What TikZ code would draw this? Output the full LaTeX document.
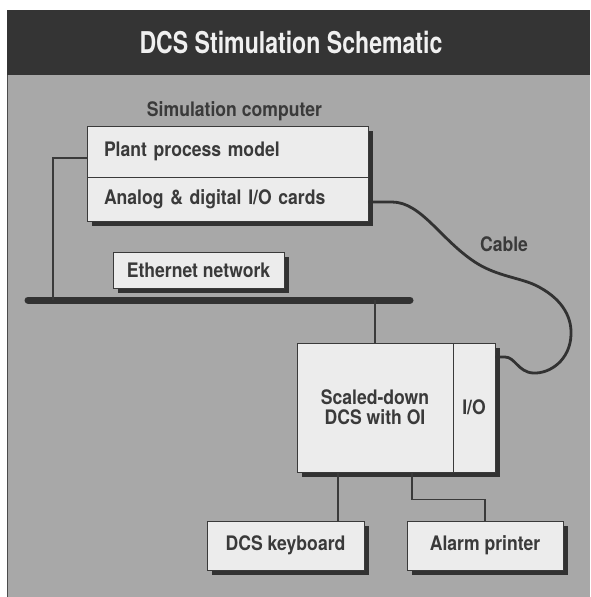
\documentclass[tikz,border=0pt]{standalone}
\usepackage{fontspec}
\newfontfamily\labfont[FakeStretch=0.88]{TeX Gyre Heros}
\newfontfamily\titlefont[FakeStretch=0.77]{TeX Gyre Heros}
\usetikzlibrary{shadows}
\definecolor{bandc}{RGB}{52,52,52}
\definecolor{bgc}{RGB}{168,168,168}
\definecolor{boxc}{RGB}{236,236,236}
\definecolor{inkc}{RGB}{58,58,58}
\definecolor{shadc}{RGB}{50,50,50}
\definecolor{titlec}{RGB}{240,240,240}
\begin{document}
\begin{tikzpicture}[x=1pt,y=-1pt,
  lab/.style={font=\labfont\bfseries\fontsize{20}{20}\selectfont, text=inkc},
  box/.style={lab, draw=inkc, line width=0.9pt, fill=boxc, inner sep=0pt,
    drop shadow={shadow xshift=5pt, shadow yshift=-5pt, opacity=1, fill=shadc}},
  wire/.style={draw=inkc, line width=1.1pt},
  cable/.style={draw=shadc, line width=2.8pt},
  bus/.style={draw=shadc, line width=7pt, line cap=round}]
\useasboundingbox (0,0) rectangle (590,597);
\fill[white] (0,0) rectangle (590,597);
\fill[bgc] (7,75) rectangle (590,597);
\fill[bandc] (7,10) rectangle (590,75);
\draw[gray!60!black, line width=0.8pt] (7.4,75) -- (7.4,597);
\node[anchor=base, font=\titlefont\bfseries\fontsize{30}{30}\selectfont, text=titlec] (title) at (291,53) {DCS Stimulation Schematic};
\node[lab, anchor=base] (simlabel) at (234.5,116) {Simulation computer};
\coordinate (busL) at (28,300);
\coordinate (busR) at (410,300);
\coordinate (busJ) at (53,300);
\draw[bus] (busL) -- (busR);
\node[box, minimum height=51pt, text width=247pt, inner xsep=17pt, align=left] (plant) at (227.5,151.5) {Plant process model};
\node[box, minimum height=44pt, text width=247pt, inner xsep=17pt, align=left] (analog) at (227.5,199) {Analog \& digital I/O cards};
\node[box, minimum width=171pt, minimum height=36pt] (eth) at (198.5,270) {Ethernet network};
\node[box, minimum width=156pt, minimum height=129pt, align=center] (dcs) at (375,407.5) {Scaled-down\\DCS with OI};
\node[box, minimum width=42pt, minimum height=129pt] (io) at (474,407.5) {I/O};
\node[box, minimum width=157pt, minimum height=49pt] (kbd) at (285.5,545.5) {DCS keyboard};
\node[box, minimum width=156pt, minimum height=49pt] (alarm) at (485,545.5) {Alarm printer};
\node[lab, anchor=base] (cablelabel) at (504,251) {Cable};
\draw[wire] ([yshift=-6.5pt]plant.west) -| (busJ);
\draw[wire] (dcs.north) -- (dcs.north |- busL);
\draw[wire] ([xshift=52.5pt]kbd.north) -- ([xshift=52.5pt]kbd.north |- dcs.south);
\draw[wire] ([xshift=37pt]dcs.south) -- ++(0,27) -| (alarm.north);
\draw[cable] ([yshift=-3pt]analog.east) -- (392,202)
  .. controls (422,202) and (442,242) .. (478,264)
  .. controls (498,276) and (520,278) .. (535,285)
  .. controls (560,297) and (572,315) .. (571,335)
  .. controls (570,360) and (550,374) .. (533,373)
  .. controls (518,372) and (515,357) .. (505,357)
  -- ([yshift=50.5pt]io.east);
\end{tikzpicture}
\end{document}
